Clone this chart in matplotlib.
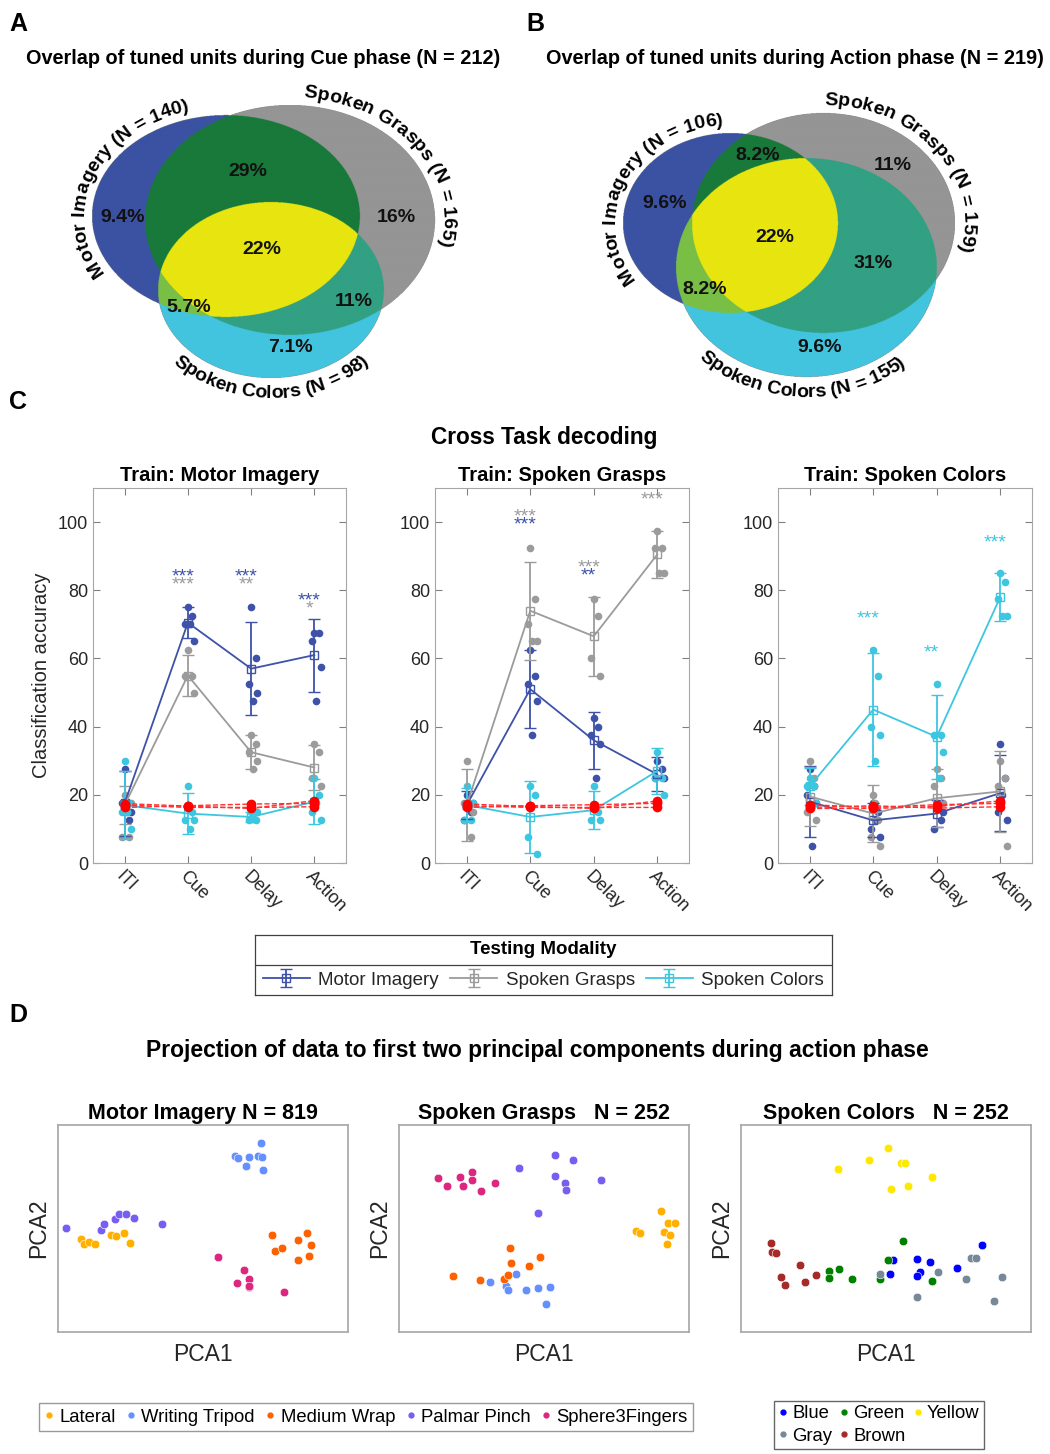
import numpy as np
import matplotlib
matplotlib.use("Agg")
import matplotlib.pyplot as plt
from matplotlib.lines import Line2D
from matplotlib.colors import to_rgba
from matplotlib.transforms import ScaledTranslation
from matplotlib.font_manager import FontProperties, findfont, get_font

plt.rcParams['font.family'] = ['Liberation Sans', 'DejaVu Sans']

W, H = 1050, 1454
fig = plt.figure(figsize=(W / 100, H / 100), dpi=100)
DARK = "#262626"

# ---------------- A / B : venn data
set_names = ["Motor Imagery", "Spoken Grasps", "Spoken Colors"]
cue_set_n = [140, 165, 98]
action_set_n = [106, 159, 155]
cue_total = 212
action_total = 219
# regions: MI only, SG only, SC only, MI&SG, SG&SC, MI&SC, all three
cue_pct = [9.4, 16, 7.1, 29, 11, 5.7, 22]
action_pct = [9.6, 11, 9.6, 8.2, 31, 8.2, 22]

# ---------------- C : cross task decoding
phases = ["ITI", "Cue", "Delay", "Action"]
test_names = ["Motor Imagery", "Spoken Grasps", "Spoken Colors"]
train_titles = ["Train: Motor Imagery", "Train: Spoken Grasps", "Train: Spoken Colors"]

# train Motor Imagery  (rows: test MI, SG, SC)
mi_mean = [[17.5, 70.5, 57, 61], [17, 55, 32.5, 28], [17, 14.5, 13.5, 18]]
mi_err = [[9.5, 4.5, 13.7, 10.7], [5.5, 6, 5, 6.5], [10, 6, 1.5, 6.5]]
mi_dots = [
    [[27.5, 12.5, 17.5, 15, 17.5], [75, 72.5, 70, 65, 70], [75, 60, 52.5, 50, 47.5], [67.5, 67.5, 65, 57.5, 47.5]],
    [[20, 7.5, 7.5, 17.5, 15], [62.5, 55, 55, 50], [37.5, 35, 32.5, 30, 27.5], [35, 32.5, 25, 22.5]],
    [[30, 17.5, 15, 10, 15], [22.5, 15, 12.5, 12.5, 10], [15, 12.5, 12.5, 15, 13], [25, 20, 15, 12.5, 17.5]],
]
mi_chance = [[17, 16.3, 16.3, 16.5], [16.3, 16.8, 17.3, 17.5], [17.4, 16.7, 16.0, 18.3]]
mi_stars = [(1, 84, "***", 0), (1, 81.5, "***", 1), (2, 84, "***", 0), (2, 81.5, "**", 1),
            (3, 77, "***", 0), (3, 74.5, "*", 1)]

# train Spoken Grasps
sg_mean = [[17, 51, 36, 26], [17, 74, 66.5, 90.5], [17, 13.5, 15.5, 27]]
sg_err = [[4, 11.5, 8.4, 5], [10.5, 14.4, 11.5, 6.8], [5, 10.5, 5.5, 6.7]]
sg_dots = [
    [[20, 15, 12.5, 17.5], [62.5, 55, 52.5, 47.5, 37.5], [42.5, 40, 37.5, 35, 25], [30, 27.5, 25, 25]],
    [[30, 7.5, 17.5, 15], [92.5, 77.5, 70, 65, 65], [77.5, 72.5, 60, 55], [97.5, 92.5, 92.5, 85, 85]],
    [[22.5, 12.5, 12.5, 17.5], [22.5, 20, 7.5, 2.5], [22.5, 15, 12.5, 12.5], [32.5, 25, 25, 20]],
]
sg_chance = [[16.8, 16.3, 16.3, 16.3], [16.3, 16.8, 17.1, 17.5], [17.3, 16.6, 16.0, 18.2]]
sg_stars = [(1, 101.5, "***", 1), (1, 99.3, "***", 0), (2, 86.6, "***", 1), (2, 84.3, "**", 0),
            (3, 106.5, "***", 1)]

# train Spoken Colors
sc_mean = [[18, 12.5, 14.5, 20.5], [19.5, 14.5, 19, 21], [22.5, 45, 37, 78]]
sc_err = [[10.5, 5, 4, 11.2], [8.7, 8.3, 8.5, 12], [5.5, 16.6, 12.3, 7]]
sc_dots = [
    [[27.5, 22.5, 20, 17.5, 5], [17.5, 15, 10, 7.5, 12.5], [17.5, 12.5, 10, 15], [35, 25, 15, 12.5, 20]],
    [[30, 25, 15, 12.5], [20, 12.5, 7.5, 5, 17.5], [27.5, 25, 22.5, 17.5], [30, 25, 22.5, 5]],
    [[25, 22.5, 22.5, 17.5], [62.5, 55, 40, 37.5, 30], [52.5, 37.5, 37.5, 32.5, 25], [85, 82.5, 77.5, 72.5, 72.5]],
]
sc_chance = [[16.3, 16.8, 16.1, 16.5], [17.1, 16.3, 17.1, 17.5], [16.0, 16.0, 16.6, 18.2]]
sc_stars = [(1, 71.7, "***", 2), (2, 61.6, "**", 2), (3, 94, "***", 2)]

# ---------------- D : PCA projections (scores scaled 0-100)
grasp_names = ["Lateral", "Writing Tripod", "Medium Wrap", "Palmar Pinch", "Sphere3Fingers"]
color_names = ["Blue", "Green", "Yellow", "Gray", "Brown"]

mi_pc1 = [
    [7.9, 8.8, 10.6, 12.9, 18.3, 20.0, 22.7, 24.9],
    [69.9, 61.2, 62.2, 65.9, 68.8, 70.2, 64.7, 70.6],
    [73.7, 74.7, 77.3, 82.8, 85.9, 87.4, 82.9, 86.6],
    [2.6, 14.7, 16.0, 19.8, 21.1, 23.4, 26.3, 35.7],
    [55.2, 64.2, 65.9, 61.6, 65.7, 65.8, 78.1],
]
mi_pc2 = [
    [44.8, 42.3, 43.5, 42.3, 46.8, 46.5, 47.9, 42.9],
    [91.3, 85.0, 83.9, 84.5, 85.0, 84.7, 80.3, 78.1],
    [46.8, 39.2, 40.8, 44.4, 47.7, 41.9, 34.8, 36.8],
    [50.3, 49.4, 52.3, 54.4, 57.1, 57.1, 55.2, 52.4],
    [36.1, 30.0, 25.5, 23.7, 21.8, 22.3, 19.5],
]
sg_pc1 = [
    [90.2, 92.6, 95.2, 81.6, 83.0, 91.5, 93.6, 92.3],
    [31.4, 36.9, 37.7, 40.5, 43.8, 48.0, 52.1, 50.8],
    [38.3, 38.7, 44.9, 48.6, 18.7, 27.8, 36.1, 37.5],
    [41.3, 53.9, 60.0, 53.9, 57.1, 57.6, 69.8, 47.8],
    [13.6, 16.7, 21.0, 22.1, 25.3, 25.3, 28.4, 33.1],
]
sg_pc2 = [
    [58.5, 52.6, 52.6, 48.9, 47.6, 48.1, 47.1, 42.3],
    [24.0, 22.3, 20.5, 28.1, 20.2, 21.3, 21.5, 13.5],
    [40.6, 33.1, 31.9, 36.1, 27.1, 25.3, 25.6, 27.3],
    [79.0, 85.6, 83.1, 75.6, 71.9, 68.7, 73.5, 57.7],
    [74.2, 70.3, 74.8, 70.3, 77.4, 73.4, 68.1, 72.1],
]
col_pc1 = [
    [52.5, 51.4, 60.8, 65.1, 61.6, 60.8, 74.5, 83.0],
    [30.3, 30.3, 33.9, 38.2, 47.8, 50.6, 55.8, 65.7],
    [33.3, 44.3, 50.6, 55.2, 56.4, 51.7, 57.7, 65.8],
    [47.8, 67.8, 60.6, 79.3, 81.1, 77.7, 90.0, 87.3],
    [10.4, 10.6, 12.1, 20.3, 13.8, 15.3, 22.1, 25.7],
]
col_pc2 = [
    [34.6, 28.0, 35.5, 33.8, 28.9, 27.2, 31.0, 42.1],
    [29.3, 26.0, 30.2, 25.4, 25.4, 34.9, 44.1, 24.8],
    [78.8, 83.0, 88.9, 81.5, 81.8, 69.0, 70.4, 75.1],
    [28.1, 28.8, 17.0, 35.9, 35.9, 25.7, 26.5, 15.1],
    [43.1, 38.6, 38.3, 32.5, 26.8, 22.8, 24.0, 27.7],
]

# ---------------- styling
region_codes = [(1, 0, 0), (0, 1, 0), (0, 0, 1), (1, 1, 0), (0, 1, 1), (1, 0, 1), (1, 1, 1)]
region_colors = ["#3B52A3", "#959595", "#42C4DF", "#18793A", "#32A083", "#79BF45", "#E8E50F"]
test_colors = ["#3D52A8", "#9B9B9B", "#3DC6E0"]
grasp_colors = ["#FFB000", "#648FFF", "#FE6100", "#785EF0", "#DC267F"]
shade_colors = ["#0000FF", "#008000", "#FFE800", "#778899", "#A52A2A"]


def px_axes(l, t, r, b):
    return fig.add_axes([l / W, 1 - b / H, (r - l) / W, (b - t) / H])


def arc_text(ax, s, ell, t_mid, direction, off, fs=14):
    cx, cy, a, b = ell
    prop = FontProperties(family='Liberation Sans', weight='bold', size=fs)
    font = get_font(findfont(prop))
    font.set_size(fs, 72)
    adv = np.array([font.load_char(ord(ch)).linearHoriAdvance / 65536 for ch in s]) * 100 / 72
    centers = np.cumsum(adv) - adv / 2 - adv.sum() / 2
    ts = np.radians(t_mid) + direction * np.linspace(-np.pi, np.pi, 6001)
    px = cx + (a + off) * np.cos(ts)
    py = cy - (b + off) * np.sin(ts)
    arc = np.concatenate([[0], np.cumsum(np.hypot(np.diff(px), np.diff(py)))])
    arc -= arc[3000]
    for ch, c in zip(s, centers):
        t = np.interp(c, arc, ts)
        x = cx + (a + off) * np.cos(t)
        y = cy - (b + off) * np.sin(t)
        dx = -(a + off) * np.sin(t) * direction
        dy = -(b + off) * np.cos(t) * direction
        ang = np.degrees(np.arctan2(-dy, dx))
        ax.text(x, y, ch, rotation=ang, rotation_mode='anchor', ha='center', va='baseline',
                fontproperties=prop)


def draw_venn(ax, ells, xlim, ylim, pct, lab_xy, ns, label_t):
    xs = np.linspace(xlim[0], xlim[1], 1400)
    ys = np.linspace(ylim[0], ylim[1], 860)
    X, Y = np.meshgrid(xs, ys)
    inside = [((X - cx) / a) ** 2 + ((Y - cy) / b) ** 2 <= 1 for cx, cy, a, b in ells]
    img = np.zeros(X.shape + (4,))
    for code, col in zip(region_codes, region_colors):
        m = np.ones(X.shape, bool)
        for k in range(3):
            m &= inside[k] if code[k] else ~inside[k]
        img[m] = to_rgba(col)
    ax.imshow(img, extent=(xlim[0], xlim[1], ylim[1], ylim[0]), origin='upper',
              interpolation='antialiased')
    ax.set_xlim(xlim)
    ax.set_ylim(ylim[1], ylim[0])
    ax.set_aspect('auto')
    ax.axis('off')
    for v, (x, y) in zip(pct, lab_xy):
        ax.text(x, y, f"{v:g}%", ha='center', va='center', fontsize=14, fontweight='bold',
                color='#111111')
    for k in range(3):
        t_mid, direction, off = label_t[k]
        arc_text(ax, f"{set_names[k]} (N = {ns[k]})", ells[k], t_mid, direction, off)


axA = px_axes(0, 80, 525, 400)
draw_venn(axA, [(226, 216, 134, 101), (290, 220, 145, 115), (271, 290, 113, 88)],
          (0, 525), (80, 400), cue_pct,
          [(123, 218), (396, 218), (290, 348), (248, 172), (354, 302), (189, 308), (262, 250)],
          cue_set_n, [(154, -1, 8), (40, -1, 8), (270, 1, 20)])
axB = px_axes(525, 80, 1050, 400)
draw_venn(axB, [(730.5, 223, 107.5, 90), (823.5, 223, 131.5, 110), (806.5, 267.5, 130.5, 109.5)],
          (525, 1050), (80, 400), action_pct,
          [(665, 203), (893, 165), (820, 348), (758, 155), (873, 263), (705, 290), (775, 238)],
          action_set_n, [(151, -1, 8), (41, -1, 8), (268, 1, 20)])

fig.text(263 / W, 1 - 58 / H, f"Overlap of tuned units during Cue phase (N = {cue_total})",
         ha='center', va='center', fontsize=14.3, fontweight='bold')
fig.text(795 / W, 1 - 58 / H, f"Overlap of tuned units during Action phase (N = {action_total})",
         ha='center', va='center', fontsize=14.3, fontweight='bold')

for letter, x, y in [("A", 9, 24), ("B", 526, 24), ("C", 9, 402), ("D", 9, 1015)]:
    fig.text(x / W, 1 - y / H, letter, fontsize=18, fontweight='bold', ha='left', va='center')

# ---------------- C
fig.text(544 / W, 1 - 437 / H, "Cross Task decoding", ha='center', va='center',
         fontsize=16.3, fontweight='bold')

jit = np.array([0.0, 0.07, -0.04, 0.1, 0.03, -0.07, 0.05])
xpos = np.arange(1, 5)
c_axes_px = [(93, 346), (435, 689), (778, 1032)]
c_data = [(mi_mean, mi_err, mi_dots, mi_chance, mi_stars),
          (sg_mean, sg_err, sg_dots, sg_chance, sg_stars),
          (sc_mean, sc_err, sc_dots, sc_chance, sc_stars)]
handles = []
for j, ((l, r), (mean, err, dots, chance, stars)) in enumerate(zip(c_axes_px, c_data)):
    ax = px_axes(l, 488, r, 863)
    for k in range(3):
        for i in range(4):
            vals = dots[k][i]
            ax.plot(xpos[i] + jit[:len(vals)], vals, 'o', color=test_colors[k], ms=5.5,
                    mec='none', zorder=2)
    for k in range(3):
        h = ax.errorbar(xpos, mean[k], yerr=err[k], color=test_colors[k], marker='s', ms=6,
                        mfc='none', mec=test_colors[k], capsize=4, lw=1.3, elinewidth=1.3,
                        zorder=3)
        if j == 0:
            handles.append(h)
    for k in range(3):
        ax.plot(xpos, chance[k], '--', color='#FF3030', lw=1.0, zorder=4)
        ax.plot(xpos, chance[k], 'o', color='#FF0000', ms=7, mec='none', zorder=4)
    for i, y, s, k in stars:
        ax.text(xpos[i] - 0.08, y, s, color=test_colors[k], ha='center', va='center', fontsize=14)
    ax.set_xlim(0.5, 4.5)
    ax.set_ylim(0, 110)
    ax.set_yticks([0, 20, 40, 60, 80, 100])
    ax.set_xticks(xpos)
    ax.set_xticklabels(phases, rotation=-45, ha='left', va='top', rotation_mode='anchor')
    for lbl in ax.get_xticklabels():
        lbl.set_transform(lbl.get_transform() + ScaledTranslation(-0.12, -0.04, fig.dpi_scale_trans))
    ax.tick_params(direction='in', top=True, right=True, length=5, color='#808080',
                   labelsize=13, labelcolor=DARK)
    for sp in ax.spines.values():
        sp.set_color('#A6A6A6')
    ax.set_title(train_titles[j], fontsize=14.5, fontweight='bold', pad=5)
    if j == 0:
        ax.set_ylabel("Classification accuracy", fontsize=14.5, color=DARK, labelpad=5)

# legend for C
lax = px_axes(255, 935, 832, 995)
lax.set_xticks([])
lax.set_yticks([])
for sp in lax.spines.values():
    sp.set_color('#404040')
    sp.set_linewidth(0.9)
lax.axhline(0.5, color='#404040', lw=0.9)
lax.set_xlim(0, 1)
lax.set_ylim(0, 1)
lax.text(0.5, 0.75, "Testing Modality", ha='center', va='center', fontsize=13.5, fontweight='bold')
lax.legend(handles, test_names, loc='center', bbox_to_anchor=(0.5, 0.25), ncol=3, frameon=False,
           fontsize=13.5, handlelength=2.5, columnspacing=0.6, handletextpad=0.45, borderpad=0,
           labelcolor=DARK)

# ---------------- D
fig.text(537 / W, 1 - 1051 / H,
         "Projection of data to first two principal components during action phase",
         ha='center', va='center', fontsize=16.5, fontweight='bold')
d_axes_px = [(58, 348), (399, 689), (741, 1031)]
d_titles = ["Motor Imagery N = 819", "Spoken Grasps   N = 252", "Spoken Colors   N = 252"]
d_data = [(mi_pc1, mi_pc2, grasp_colors), (sg_pc1, sg_pc2, grasp_colors), (col_pc1, col_pc2, shade_colors)]
for (l, r), title, (p1, p2, cols) in zip(d_axes_px, d_titles, d_data):
    ax = px_axes(l, 1125, r, 1332)
    for xs, ys, c in zip(p1, p2, cols):
        ax.scatter(xs, ys, s=38, color=c, edgecolors='white', linewidths=0.4)
    ax.set_xlim(0, 100)
    ax.set_ylim(0, 100)
    ax.set_xticks([])
    ax.set_yticks([])
    for sp in ax.spines.values():
        sp.set_color('#A6A6A6')
        sp.set_linewidth(1.2)
    ax.set_title(title, fontsize=15.5, fontweight='bold', pad=4)
    ax.set_xlabel("PCA1", fontsize=16.5, color=DARK, labelpad=8)
    ax.set_ylabel("PCA2", fontsize=16.5, color=DARK, labelpad=6)

narrow = ['Liberation Sans Narrow', 'Liberation Sans', 'DejaVu Sans']
g_handles = [Line2D([], [], ls='none', marker='o', ms=3.5, color=c) for c in grasp_colors]
leg1 = fig.legend(g_handles, grasp_names, loc='center', bbox_to_anchor=(366 / W, 1 - 1417 / H),
                  ncol=5, handlelength=0.5, handletextpad=0.3, columnspacing=0.6,
                  borderpad=0.3, fancybox=False, edgecolor='#808080',
                  prop={'family': narrow, 'size': 13.3})
order = [0, 3, 1, 4, 2]
c_handles = [Line2D([], [], ls='none', marker='o', ms=3.5, color=shade_colors[i]) for i in order]
leg2 = fig.legend(c_handles, [color_names[i] for i in order], loc='center',
                  bbox_to_anchor=(879 / W, 1 - 1425 / H), ncol=3, handlelength=0.5,
                  handletextpad=0.25, columnspacing=0.4, borderpad=0.25, labelspacing=0.3,
                  fancybox=False, edgecolor='#404040', prop={'family': narrow, 'size': 13.3})

fig.savefig("out.png", dpi=100)
